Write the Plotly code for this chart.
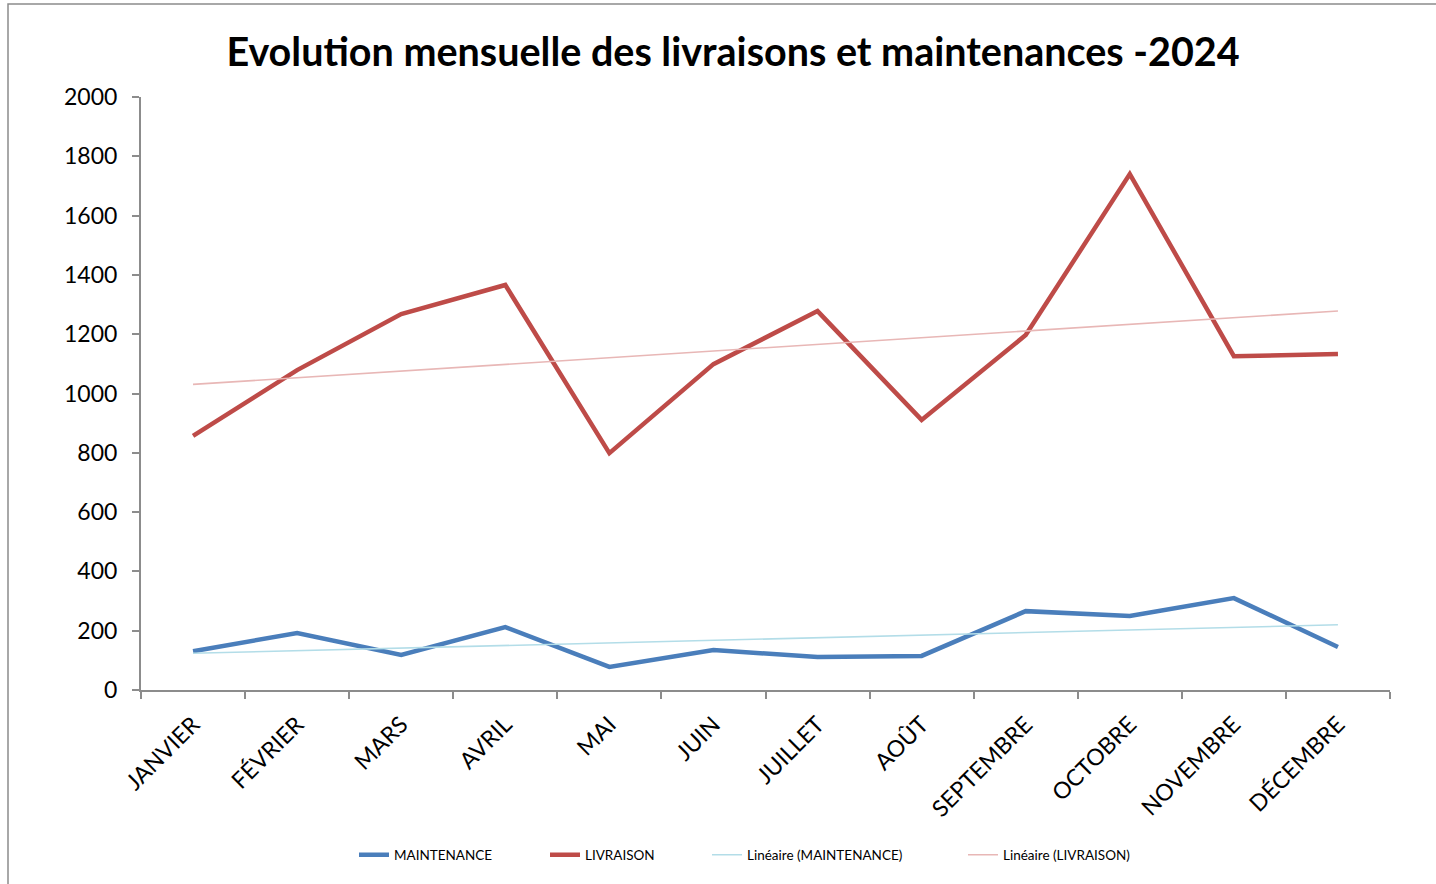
import numpy as np
import plotly.graph_objects as go

mois = ["JANVIER", "FÉVRIER", "MARS", "AVRIL", "MAI", "JUIN", "JUILLET",
        "AOÛT", "SEPTEMBRE", "OCTOBRE", "NOVEMBRE", "DÉCEMBRE"]
maintenance = [131, 192, 118, 212, 78, 135, 111, 115, 266, 250, 310, 145]
livraison = [857, 1079, 1268, 1366, 799, 1099, 1278, 911, 1197, 1740, 1126, 1133]

# Least-squares linear trend over the month index (like a spreadsheet "Linéaire" trendline)
idx = np.arange(1, len(mois) + 1)
def tendance(vals):
    a, b = np.polyfit(idx, vals, 1)
    return a * idx + b

FONT = "Lato"
BLEU, ROUGE = "#4A7EBB", "#BE4B48"
BLEU_CLAIR, ROSE = "#B3DDE8", "#E8B7B6"

L, R, T, B = 141, 46, 97, 194
W, H = 1436, 884
pw, ph = W - L - R, H - T - B

# name, values, colour, width, legend id, left edge of legend entry (px)
series = [
    ("MAINTENANCE", maintenance, BLEU, 4.5, "legend", 362),
    ("LIVRAISON", livraison, ROUGE, 4.5, "legend2", 553),
    ("Linéaire (MAINTENANCE)", tendance(maintenance), BLEU_CLAIR, 1.6, "legend3", 715),
    ("Linéaire (LIVRAISON)", tendance(livraison), ROSE, 1.6, "legend4", 971),
]

fig = go.Figure()
legends = {}
for name, vals, col, w, leg, xpx in series:
    fig.add_trace(go.Scatter(x=mois, y=vals, mode="lines", name=name,
                             line=dict(color=col, width=w), legend=leg))
    legends[leg] = dict(orientation="h", x=(xpx - 8 - L) / pw, xanchor="left",
                        y=-(855 - (T + ph)) / ph, yanchor="middle",
                        font=dict(size=13.5, family=FONT), bgcolor="rgba(0,0,0,0)")

fig.update_layout(
    width=W, height=H,
    margin=dict(l=L, r=R, t=T, b=B),
    paper_bgcolor="white", plot_bgcolor="white",
    font=dict(family=FONT, color="black"),
    title=dict(text="<b>Evolution mensuelle des livraisons et maintenances -2024</b>",
               x=733 / W, xanchor="center", y=1 - 52 / H, yanchor="middle",
               font=dict(size=39.5, family=FONT)),
    showlegend=True,
    xaxis=dict(type="category", range=[-0.5, 11.5], showgrid=False, showline=True,
               linecolor="#8C8C8C", linewidth=2, ticks="outside",
               tickson="boundaries", ticklen=7, tickcolor="#8C8C8C", tickwidth=2,
               tickangle=-45, ticklabelstandoff=10,
               tickfont=dict(size=23, family=FONT), zeroline=False),
    yaxis=dict(range=[0, 2000], dtick=200, showgrid=False, showline=True,
               linecolor="#8C8C8C", linewidth=2, ticks="outside", ticklen=7,
               tickcolor="#8C8C8C", tickwidth=2, zeroline=False,
               ticklabelstandoff=10, tickfont=dict(size=23, family=FONT)),
    **legends,
)

# Outer chart frame
fig.add_shape(type="rect", xref="paper", yref="paper",
              x0=(8 - L) / pw, x1=(W + 10 - L) / pw,
              y0=-(H + 10 - (T + ph)) / ph, y1=((T + ph) - 4) / ph,
              line=dict(color="#8C8C8C", width=1.5), fillcolor="rgba(0,0,0,0)",
              layer="below")

fig.write_html("out.html")
